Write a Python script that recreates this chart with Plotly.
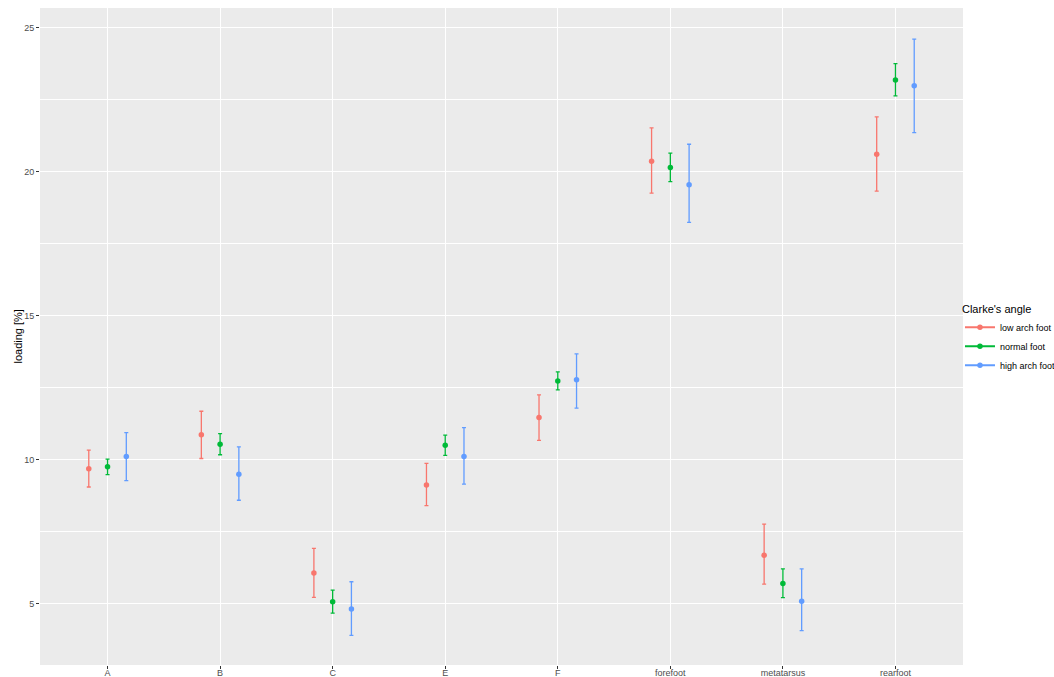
import plotly.graph_objects as go

categories = ["A", "B", "C", "E", "F", "forefoot", "metatarsus", "rearfoot"]
groups = ["low arch foot", "normal foot", "high arch foot"]
colors = ["#F8766D", "#00BA38", "#619CFF"]

low_mean = [9.69, 10.87, 6.07, 9.13, 11.47, 20.37, 6.69, 20.61]
low_upper = [10.34, 11.69, 6.93, 9.88, 12.26, 21.53, 7.77, 21.91]
low_lower = [9.06, 10.05, 5.23, 8.41, 10.68, 19.26, 5.69, 19.33]

normal_mean = [9.76, 10.54, 5.08, 10.51, 12.74, 20.15, 5.71, 23.19]
normal_upper = [10.03, 10.91, 5.48, 10.86, 13.06, 20.65, 6.22, 23.76]
normal_lower = [9.49, 10.18, 4.68, 10.16, 12.43, 19.66, 5.22, 22.64]

high_mean = [10.12, 9.50, 4.82, 10.12, 12.78, 19.55, 5.09, 22.99]
high_upper = [10.95, 10.45, 5.77, 11.12, 13.68, 20.96, 6.22, 24.61]
high_lower = [9.28, 8.60, 3.91, 9.16, 11.80, 18.25, 4.07, 21.36]

y_ticks = [5, 10, 15, 20, 25]

series = [
    (low_mean, low_upper, low_lower),
    (normal_mean, normal_upper, normal_lower),
    (high_mean, high_upper, high_lower),
]

dodge = 0.5
n = len(groups)
fig = go.Figure()
for gi, (name, col, (m, up, lo)) in enumerate(zip(groups, colors, series)):
    off = (gi - (n - 1) / 2) * dodge / n
    xs = [i + off for i in range(len(categories))]
    fig.add_trace(go.Scatter(
        x=xs, y=m, mode="markers", name=name, showlegend=False,
        marker=dict(color=col, size=5.5),
        error_y=dict(type="data", symmetric=False,
                     array=[u - v for u, v in zip(up, m)],
                     arrayminus=[v - l for v, l in zip(m, lo)],
                     color=col, thickness=1.3, width=2),
    ))
    fig.add_trace(go.Scatter(
        x=[None], y=[None], mode="lines+markers", name=name,
        marker=dict(color=col, size=5.5), line=dict(color=col, width=2),
    ))

fig.update_layout(
    width=1054, height=677,
    paper_bgcolor="white", plot_bgcolor="#EBEBEB",
    margin=dict(l=40, r=91, t=8, b=12, autoexpand=False),
    font=dict(family="Liberation Sans, Arial, sans-serif", color="#4D4D4D", size=9),
    legend=dict(
        title=dict(text="Clarke's angle", font=dict(size=11, color="black")),
        font=dict(size=9, color="black"),
        xref="container", yref="container",
        x=0.9108, xanchor="left", y=0.4985, yanchor="middle",
        bgcolor="rgba(0,0,0,0)", tracegroupgap=0, itemwidth=30,
    ),
    showlegend=True,
    annotations=[dict(
        text="loading [%]", textangle=-90, xref="paper", yref="paper",
        x=0, y=0.5, xanchor="center", yanchor="middle", xshift=-23,
        showarrow=False, font=dict(size=11, color="black"),
    )],
)
fig.update_xaxes(
    range=[-0.6, len(categories) - 1 + 0.6],
    tickmode="array", tickvals=list(range(len(categories))), ticktext=categories,
    showgrid=True, gridcolor="white", gridwidth=1.1,
    ticks="outside", ticklen=3, tickcolor="#333333", tickwidth=1,
    tickfont=dict(size=9, color="#4D4D4D"), ticklabelstandoff=-4,
    zeroline=False, showline=False, automargin=False,
)
fig.update_yaxes(
    range=[2.88, 25.69],
    tickmode="array", tickvals=y_ticks,
    showgrid=True, gridcolor="white", gridwidth=1.1,
    minor=dict(tick0=0, dtick=2.5, showgrid=True, gridcolor="white", gridwidth=0.55, ticks=""),
    ticks="outside", ticklen=3, tickcolor="#333333", tickwidth=1,
    tickfont=dict(size=9, color="#4D4D4D"),
    zeroline=False, showline=False, automargin=False,
)

fig.write_html(
    "out.html",
    config={"displayModeBar": False},
    post_script="document.body.style.margin='0';document.body.style.overflow='hidden';",
)
